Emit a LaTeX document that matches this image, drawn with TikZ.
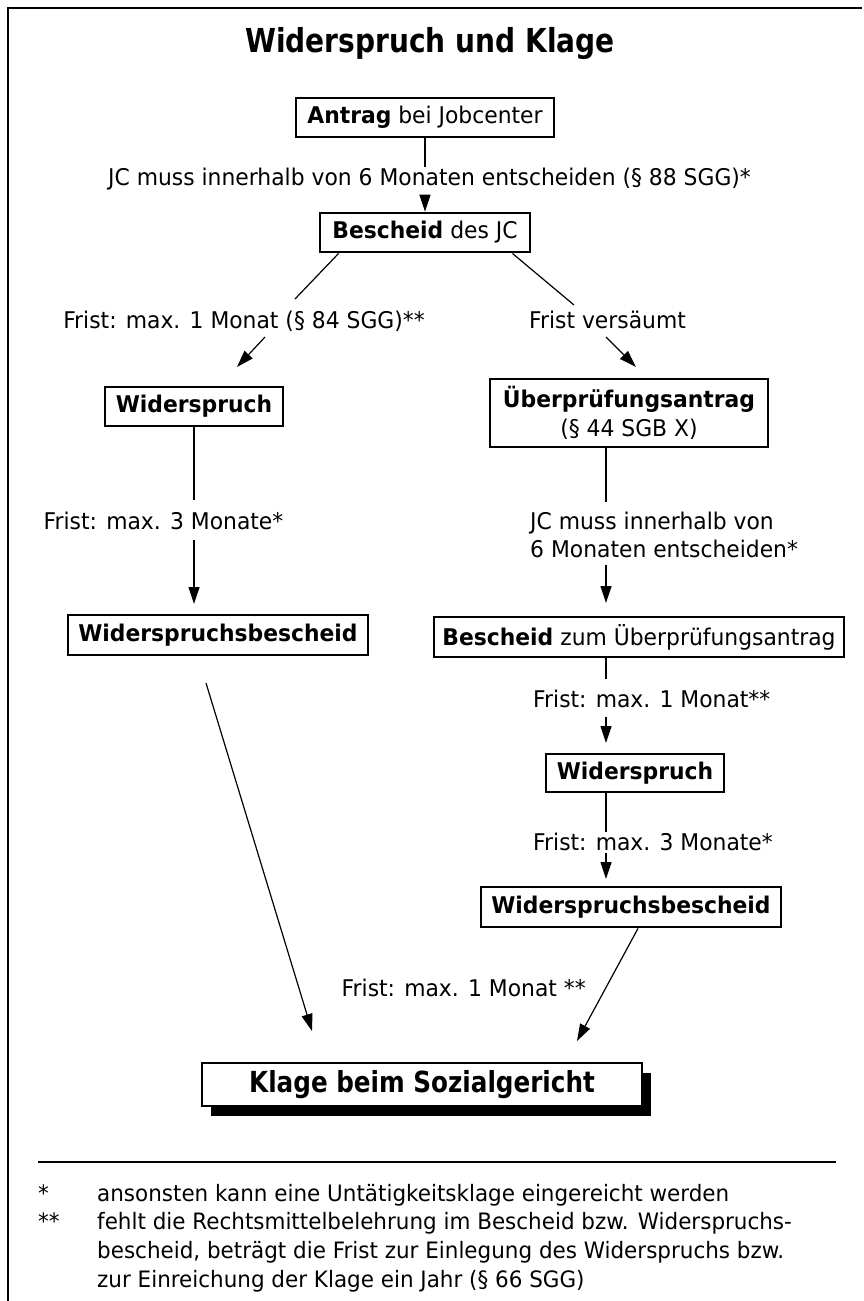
\documentclass[tikz,border=0pt]{standalone}
\usepackage{fontspec}
\setmainfont{DejaVu Sans}[FakeStretch=0.95]
\newfontfamily\narrowfam{DejaVu Sans}[FakeStretch=0.85]
\usetikzlibrary{arrows.meta,shadows}
\newcommand\lblfont{\fontsize{23}{29}\selectfont}
\newcommand\fnfont{\fontsize{22.6}{29}\selectfont}
\newcommand\boxfont{\fontsize{23}{29}\selectfont}
\newcommand\titlefont{\narrowfam\fontsize{33}{38}\selectfont\bfseries}
\newcommand\klagefont{\narrowfam\fontsize{29}{34}\selectfont\bfseries}
\begin{document}
\begin{tikzpicture}[x=1pt,y=-1pt,
  box/.style={draw, line width=2.8pt, inner sep=0pt, align=center, font=\boxfont},
  lbl/.style={inner sep=0pt, font=\lblfont},
  fn/.style={inner sep=0pt, font=\fnfont},
  conn/.style={line width=1.2pt},
  arr/.style={line width=1.2pt, -{Triangle[length=17pt,width=11pt]}},
]
\useasboundingbox (0,0) rectangle (863,1301);
\fill[white] (0,0) rectangle (863,1301);
% frame
\draw[line width=1.8pt] (8,1301) -- (8,8) -- (862,8);

% title
\node[font=\titlefont, anchor=base, inner sep=0pt] (title) at (430,52) {Widerspruch und Klage};

% boxes
\node[box, minimum width=258pt, minimum height=39pt] (antrag) at (425,117.5) {\textbf{Antrag} bei Jobcenter};
\node[box, minimum width=210pt, minimum height=39pt] (bescheid) at (425,232.5) {\textbf{Bescheid} des JC};
\node[box, minimum width=178pt, minimum height=39pt] (wid1) at (194,406.5) {\textbf{Widerspruch}};
\node[box, minimum width=278pt, minimum height=68pt] (ueber) at (629,413) {\textbf{Überprüfungsantrag}\\(§ 44 SGB X)};
\node[box, minimum width=300pt, minimum height=40pt] (wb1) at (218,635) {\textbf{Widerspruchsbescheid}};
\node[box, minimum width=410pt, minimum height=40pt] (bzu) at (639,637) {\textbf{Bescheid} zum Überprüfungsantrag};
\node[box, minimum width=178pt, minimum height=38pt] (wid2) at (635,773) {\textbf{Widerspruch}};
\node[box, minimum width=300pt, minimum height=40pt] (wb2) at (631,907) {\textbf{Widerspruchsbescheid}};
\node[box, font=\klagefont, minimum width=440pt, minimum height=43pt, fill=white,
  drop shadow={shadow xshift=9pt, shadow yshift=-10pt, fill=black, opacity=1}] (klage) at (422,1084.5) {Klage beim Sozialgericht};

% labels
\node[lbl, anchor=base] (l1) at (429.5,185) {JC muss innerhalb von 6 Monaten entscheiden (§ 88 SGG)*};
\node[lbl, anchor=base] (l2) at (244,328) {Frist: max. 1 Monat (§ 84 SGG)**};
\node[lbl, anchor=base] (l3) at (607.5,328) {Frist versäumt};
\node[lbl, anchor=base] (l4) at (163.5,529) {Frist: max. 3 Monate*};
\node[lbl, anchor=base west] (l5a) at (530,529) {JC muss innerhalb von};
\node[lbl, anchor=base west] (l5b) at (530,557) {6 Monaten entscheiden*};
\node[lbl, anchor=base west] (l6) at (533,707) {Frist: max. 1 Monat**};
\node[lbl, anchor=base west] (l7) at (533,850) {Frist: max. 3 Monate*};
\node[lbl, anchor=base east] (l8) at (586,996) {Frist: max. 1 Monat **};

% connector coordinates
\coordinate (c1) at (425,167);
\coordinate (c2) at (425,195);
\coordinate (d1) at (295,299);
\coordinate (d2) at (265,337);
\coordinate (d3) at (237,367);
\coordinate (e1) at (574,305);
\coordinate (e2) at (606,337);
\coordinate (e3) at (636,367);
\coordinate (f1) at (194,500);
\coordinate (f2) at (194,540);
\coordinate (f3) at (194,604);
\coordinate (g1) at (606,502);
\coordinate (g2) at (606,565);
\coordinate (g3) at (606,603);
\coordinate (h1) at (206,683);
\coordinate (h2) at (312,1031);
\coordinate (i1) at (606,679);
\coordinate (i2) at (606,717);
\coordinate (i3) at (606,743);
\coordinate (j1) at (606,832);
\coordinate (j2) at (606,853);
\coordinate (j3) at (606,879);
\coordinate (k1) at (577,1041);

% connectors
\draw[conn] (antrag) -- (c1);
\draw[arr] (c2) -- (bescheid);
\draw[conn] ([xshift=20pt]bescheid.south west) -- (d1);
\draw[arr] (d2) -- (d3);
\draw[conn] ([xshift=-19pt]bescheid.south east) -- (e1);
\draw[arr] (e2) -- (e3);
\draw[conn] (wid1) -- (f1);
\draw[arr] (f2) -- (f3);
\draw[conn] (ueber.south -| g1) -- (g1);
\draw[arr] (g2) -- (g3);
\draw[arr] (h1) -- (h2);
\draw[conn] (bzu.south -| i1) -- (i1);
\draw[arr] (i2) -- (i3);
\draw[conn] (wid2.south -| j1) -- (j1);
\draw[arr] (j2) -- (j3);
\draw[arr] ([xshift=7pt]wb2.south) -- (k1);

% footnotes
\draw[line width=1.3pt] (38,1162) -- (836,1162);
\node[fn, anchor=base west] (fs1) at (38,1201) {*};
\node[fn, anchor=base west] (fn1) at (97,1201) {ansonsten kann eine Untätigkeitsklage eingereicht werden};
\node[fn, anchor=base west] (fs2) at (38,1229) {**};
\node[fn, anchor=base west] (fn2) at (97,1229) {fehlt die Rechtsmittelbelehrung im Bescheid bzw. Widerspruchs-};
\node[fn, anchor=base west] (fn3) at (97,1258) {bescheid, beträgt die Frist zur Einlegung des Widerspruchs bzw.};
\node[fn, anchor=base west] (fn4) at (97,1287) {zur Einreichung der Klage ein Jahr (§ 66 SGG)};
\end{tikzpicture}
\end{document}
